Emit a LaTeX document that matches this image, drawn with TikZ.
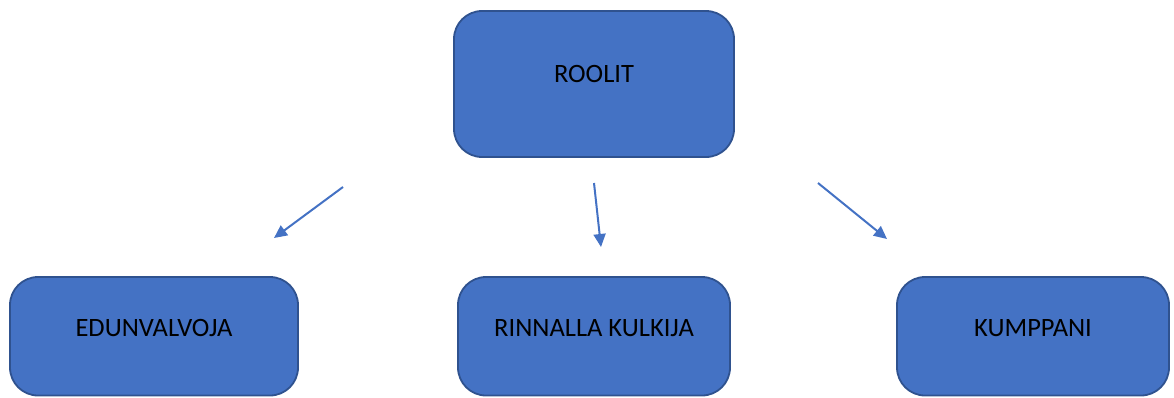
\documentclass[tikz,border=0pt]{standalone}
\usepackage{fontspec}
\setmainfont{Carlito}
\usetikzlibrary{arrows.meta}
\definecolor{boxfill}{HTML}{4472C4}
\definecolor{boxline}{HTML}{2F528F}
\begin{document}
\begin{tikzpicture}[x=1pt,y=-1pt,
  rolebox/.style={draw=boxline,fill=boxfill,line width=1.8pt,rounded corners=28pt},
  rolelabel/.style={font=\fontsize{26.5}{30}\selectfont,text=black,inner sep=0pt},
  rolearrow/.style={draw=boxfill,line width=2pt,-{Triangle[length=13pt,width=12pt]}}]
  \useasboundingbox (0,0) rectangle (1174,397);
  \clip (0,0) rectangle (1174,397);
  % top box
  \draw[rolebox] (454,11) rectangle (734,157);
  \node[rolelabel] (roolit) at (594,74) {ROOLIT};
  % bottom boxes
  \draw[rolebox] (10,277) rectangle (298,395.5);
  \node[rolelabel] (edun) at (154,328) {EDUNVALVOJA};
  \draw[rolebox] (458,277) rectangle (730,395.5);
  \node[rolelabel] (rinn) at (594,328) {RINNALLA KULKIJA};
  \draw[rolebox] (897,277) rectangle (1169,395.5);
  \node[rolelabel] (kump) at (1033,328) {KUMPPANI};
  % arrows
  \coordinate (a1s) at (343,187); \coordinate (a1e) at (274,238);
  \coordinate (a2s) at (594,183); \coordinate (a2e) at (601,247);
  \coordinate (a3s) at (818,183); \coordinate (a3e) at (887,239);
  \draw[rolearrow] (a1s) -- (a1e);
  \draw[rolearrow] (a2s) -- (a2e);
  \draw[rolearrow] (a3s) -- (a3e);
\end{tikzpicture}
\end{document}
